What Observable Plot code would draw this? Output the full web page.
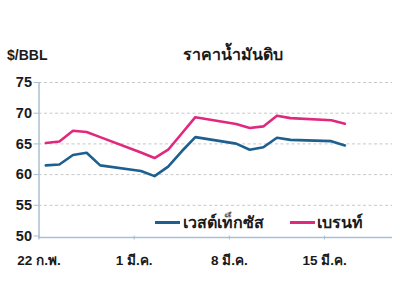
<!DOCTYPE html>
<html>
<head>
<meta charset="utf-8">
<script src="https://cdn.jsdelivr.net/npm/d3@7"></script>
<script src="https://cdn.jsdelivr.net/npm/@observablehq/plot@0.6"></script>
<style>
  html, body { margin: 0; padding: 0; background: #fff; }
  #wrap { position: relative; width: 400px; height: 286px; overflow: hidden;
          font-family: "Liberation Sans", "Noto Sans", Arial, sans-serif; color: #1a1a1a; }
  #wrap svg { position: absolute; left: 0; top: 0; }
  .lbl { position: absolute; font-weight: bold; white-space: nowrap; line-height: 1; }
  .sw { position: absolute; height: 3px; }
</style>
</head>
<body>
<div id="wrap"></div>
<script>
// ---- data ----
const dates = ["2021-02-22","2021-02-23","2021-02-24","2021-02-25","2021-02-26",
               "2021-03-01","2021-03-02","2021-03-03","2021-03-04","2021-03-05",
               "2021-03-08","2021-03-09","2021-03-10","2021-03-11","2021-03-12",
               "2021-03-15","2021-03-16"];
const wti   = [61.5, 61.65, 63.2, 63.55, 61.5, 60.6, 59.75, 61.3, 63.8, 66.1,
               65.05, 64.05, 64.45, 66.0, 65.65, 65.45, 64.75];
const brent = [65.15, 65.4, 67.15, 66.95, 66.1, 63.6, 62.7, 64.05, 66.7, 69.35,
               68.25, 67.6, 67.85, 69.6, 69.2, 68.85, 68.3];
const seriesNames = ["เวสต์เท็กซัส", "เบรนท์"];
const seriesColors = ["#1d5f8f", "#e0287f"];
const tickDates = ["2021-02-22","2021-03-01","2021-03-08","2021-03-15"];
const tickLabels = ["22 ก.พ.", "1 มี.ค.", "8 มี.ค.", "15 มี.ค."];
const yTicks = [50, 55, 60, 65, 70, 75];
const title = "ราคาน้ำมันดิบ";
const unit = "$/BBL";

// ---- build ----
const noon = s => new Date(s + "T12:00:00Z");
const day0 = s => new Date(s + "T00:00:00Z");
const rows = [];
dates.forEach((d, i) => {
  rows.push({date: noon(d), value: wti[i], series: seriesNames[0]});
  rows.push({date: noon(d), value: brent[i], series: seriesNames[1]});
});
const tickD = tickDates.map(day0);
const labelOf = new Map(tickD.map((d, i) => [+d, tickLabels[i]]));
const xDomain = [day0("2021-02-22"), day0("2021-03-20")];
const axisColor = "#a9bfd3";

const chart = Plot.plot({
  width: 400,
  height: 286,
  marginLeft: 38.5,
  marginRight: 8,
  marginTop: 82,
  marginBottom: 50.5,
  style: {fontFamily: "'Liberation Sans', Arial, sans-serif", fontSize: "13px", fontWeight: "bold", color: "#1a1a1a", background: "transparent"},
  x: {type: "utc", domain: xDomain},
  y: {domain: [50, 75]},
  color: {domain: seriesNames, range: seriesColors},
  marks: [
    Plot.gridY(yTicks.filter(v => v > 50), {stroke: "#c8c8c8", strokeOpacity: 1, strokeDasharray: "3,2.5", strokeWidth: 1}),
    Plot.axisY(yTicks, {tickSize: 5, tickPadding: 2, stroke: axisColor, label: null, fill: "#1a1a1a", fontSize: 14.5, style: {letterSpacing: "1.5px"}}),
    Plot.axisX(tickD, {tickSize: 4, tickPadding: 15, stroke: axisColor, label: null, tickFormat: d => labelOf.get(+d), fill: "#1a1a1a", fontSize: 13.5}),
    Plot.ruleY([50], {stroke: axisColor, strokeWidth: 1.5, dy: 1.5}),
    Plot.ruleX([xDomain[0]], {y1: 49.5, y2: 75, stroke: axisColor, strokeWidth: 1.5}),
    Plot.line(rows, {x: "date", y: "value", z: "series", stroke: "series", strokeWidth: 2.6, strokeLinejoin: "round"})
  ]
});

const wrap = document.getElementById("wrap");
wrap.appendChild(chart);

function addLabel(text, left, top, size) {
  const el = document.createElement("div");
  el.className = "lbl";
  el.textContent = text;
  el.style.left = left + "px";
  el.style.top = top + "px";
  el.style.fontSize = size + "px";
  wrap.appendChild(el);
  return el;
}
addLabel(unit, 7, 48, 14);
addLabel(title, 183, 47, 16);

// legend
const legendPos = [{sw: 155, tx: 183}, {sw: 290, tx: 317}];
seriesNames.forEach((n, i) => {
  const s = document.createElement("div");
  s.className = "sw";
  s.style.left = legendPos[i].sw + "px";
  s.style.width = "25px";
  s.style.top = "221px";
  s.style.background = seriesColors[i];
  wrap.appendChild(s);
  addLabel(n, legendPos[i].tx, 215, 16);
});
</script>
</body>
</html>
